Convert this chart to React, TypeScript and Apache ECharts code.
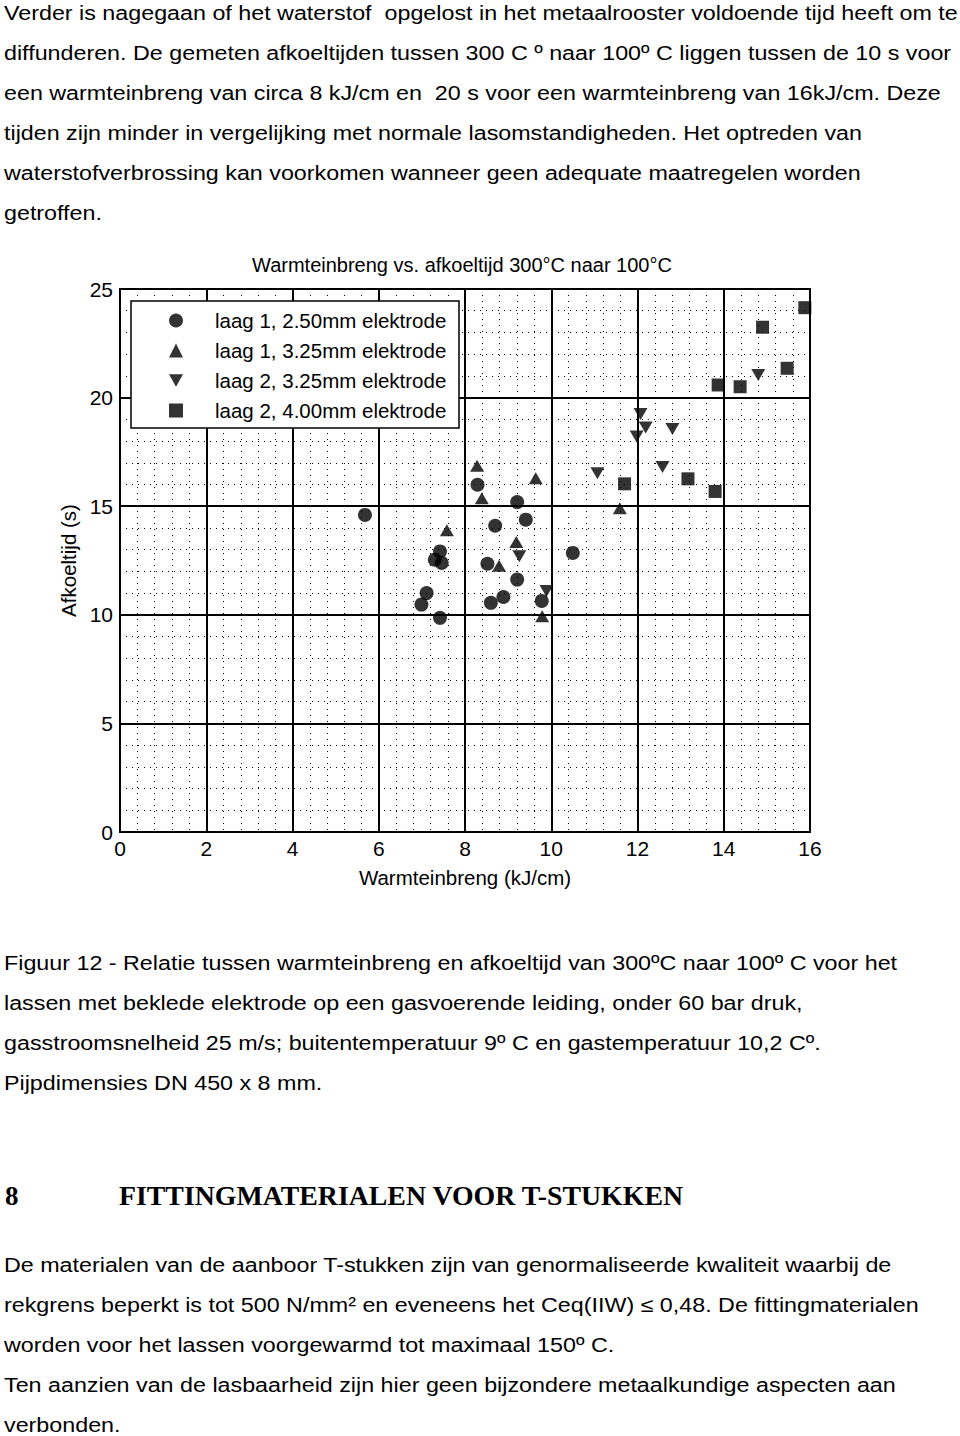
import React, { useEffect, useRef } from 'react';
import * as echarts from 'echarts';

// ---------- text content ----------
const para1Lines = [
  'Verder is nagegaan of het waterstof  opgelost in het metaalrooster voldoende tijd heeft om te',
  'diffunderen. De gemeten afkoeltijden tussen 300 C º naar 100º C liggen tussen de 10 s voor',
  'een warmteinbreng van circa 8 kJ/cm en  20 s voor een warmteinbreng van 16kJ/cm. Deze',
  'tijden zijn minder in vergelijking met normale lasomstandigheden. Het optreden van',
  'waterstofverbrossing kan voorkomen wanneer geen adequate maatregelen worden',
  'getroffen.',
];
const captionLines = [
  'Figuur 12 - Relatie tussen warmteinbreng en afkoeltijd van 300ºC naar 100º C voor het',
  'lassen met beklede elektrode op een gasvoerende leiding, onder 60 bar druk,',
  'gasstroomsnelheid 25 m/s; buitentemperatuur 9º C en gastemperatuur 10,2 Cº.',
  'Pijpdimensies DN 450 x 8 mm.',
];
const headingNumber = '8';
const headingText = 'FITTINGMATERIALEN VOOR T-STUKKEN';
const para2Lines = [
  'De materialen van de aanboor T-stukken zijn van genormaliseerde kwaliteit waarbij de',
  'rekgrens beperkt is tot 500 N/mm² en eveneens het Ceq(IIW) ≤ 0,48. De fittingmaterialen',
  'worden voor het lassen voorgewarmd tot maximaal 150º C.',
  'Ten aanzien van de lasbaarheid zijn hier geen bijzondere metaalkundige aspecten aan',
  'verbonden.',
];

// ---------- chart data ----------
const chartTitle = 'Warmteinbreng vs. afkoeltijd 300°C naar 100°C';
const xAxisName = 'Warmteinbreng (kJ/cm)';
const yAxisName = 'Afkoeltijd (s)';
const xTicks = [0, 2, 4, 6, 8, 10, 12, 14, 16];
const yTicks = [0, 5, 10, 15, 20, 25];

const seriesNames = [
  'laag 1, 2.50mm elektrode',
  'laag 1, 3.25mm elektrode',
  'laag 2, 3.25mm elektrode',
  'laag 2, 4.00mm elektrode',
];

const laag1_250 = [
  [5.68, 14.6], [7.42, 12.92], [7.3, 12.54], [7.46, 12.39], [7.11, 11.0], [6.99, 10.47],
  [7.42, 9.86], [8.29, 15.99], [9.21, 15.19], [8.7, 14.1], [9.41, 14.38], [8.52, 12.35],
  [9.21, 11.62], [8.6, 10.55], [8.89, 10.82], [9.78, 10.64], [10.5, 12.85],
];
const laag1_325 = [
  [8.28, 16.86], [8.39, 15.37], [9.64, 16.29], [7.58, 13.89], [9.19, 13.35],
  [8.79, 12.26], [9.79, 9.93], [11.59, 14.91],
];
const laag2_325 = [
  [9.26, 12.69], [9.89, 11.1], [11.07, 16.52], [12.07, 19.24], [12.19, 18.62],
  [11.98, 18.21], [12.81, 18.55], [12.58, 16.8], [14.8, 21.04],
];
const laag2_400 = [
  [11.7, 16.03], [13.17, 16.26], [13.8, 15.68], [13.87, 20.58], [14.38, 20.5],
  [15.47, 21.35], [14.9, 23.24], [15.88, 24.14],
];

const FONT = '"Liberation Sans", Arial, Helvetica, sans-serif';
const SERIF = '"Liberation Serif", "Times New Roman", serif';

function Chart() {
  const ref = useRef<HTMLDivElement>(null);
  useEffect(() => {
    if (!ref.current) return;
    const chart = echarts.init(ref.current, null, { renderer: 'svg' });
    const minor = { show: true, lineStyle: { color: '#000', width: 1, type: [1, 5] } };
    const major = { show: true, lineStyle: { color: '#000', width: 2 } };
    chart.setOption({
      animation: false,
      textStyle: { fontFamily: FONT, color: '#000' },
      title: {
        text: chartTitle,
        left: 252,
        top: 25,
        padding: 0,
        textStyle: { fontFamily: FONT, fontSize: 20, fontWeight: 'normal', color: '#000' },
      },
      grid: {
        left: 120, top: 59, width: 690, height: 543,
        show: true, borderColor: '#000', borderWidth: 2, backgroundColor: '#fff',
      },
      xAxis: {
        type: 'value',
        min: xTicks[0], max: xTicks[xTicks.length - 1], interval: xTicks[1] - xTicks[0],
        name: xAxisName, nameLocation: 'middle', nameGap: 35,
        nameTextStyle: { fontFamily: FONT, fontSize: 20.5, color: '#000' },
        axisLine: { show: true, onZero: false, lineStyle: { color: '#000', width: 2 } },
        axisTick: { show: false },
        axisLabel: { fontFamily: FONT, fontSize: 21, color: '#000', margin: 6 },
        splitLine: major,
        minorTick: { show: false, splitNumber: 5 },
        minorSplitLine: minor,
      },
      yAxis: {
        type: 'value',
        min: yTicks[0], max: yTicks[yTicks.length - 1], interval: yTicks[1] - yTicks[0],
        name: yAxisName, nameLocation: 'middle', nameGap: 40,
        nameTextStyle: { fontFamily: FONT, fontSize: 20.5, color: '#000' },
        axisLine: { show: true, onZero: false, lineStyle: { color: '#000', width: 2 } },
        axisTick: { show: false },
        axisLabel: { fontFamily: FONT, fontSize: 21, color: '#000', margin: 7 },
        splitLine: major,
        minorTick: { show: false, splitNumber: 5 },
        minorSplitLine: minor,
      },
      legend: {
        orient: 'vertical',
        left: 169, top: 80,
        itemWidth: 14, itemHeight: 14, itemGap: 9,
        padding: 0,
        z: 100,
        data: seriesNames,
        textStyle: { fontFamily: FONT, fontSize: 20.5, color: '#000', padding: [0, 0, 0, 27] },
      },
      graphic: {
        elements: [
          {
            type: 'rect',
            z: 50,
            shape: { x: 131, y: 71, width: 328, height: 127 },
            style: { fill: '#fff', stroke: '#000', lineWidth: 1.5 },
          },
        ],
      },
      series: [
        { name: seriesNames[0], type: 'scatter', data: laag1_250, symbol: 'circle', symbolSize: 14, itemStyle: { color: '#000' } },
        { name: seriesNames[1], type: 'scatter', data: laag1_325, symbol: 'triangle', symbolSize: [14, 12], itemStyle: { color: '#000' } },
        { name: seriesNames[2], type: 'scatter', data: laag2_325, symbol: 'path://M0,0L10,0L5,9Z', symbolSize: [14, 12], itemStyle: { color: '#000' } },
        { name: seriesNames[3], type: 'scatter', data: laag2_400, symbol: 'rect', symbolSize: 13, itemStyle: { color: '#000' } },
      ],
    });
    return () => chart.dispose();
  }, []);
  return <div ref={ref} style={{ position: 'absolute', left: 0, top: 230, width: 960, height: 670 }} />;
}

function Lines({ lines, top }: { lines: string[]; top: number }) {
  return (
    <div
      style={{
        position: 'absolute', left: 4, top, fontFamily: FONT, fontSize: 20,
        lineHeight: '40px', color: '#000', whiteSpace: 'pre',
        transform: 'scaleX(1.164)', transformOrigin: '0 0',
      }}
    >
      {lines.map((l, i) => (
        <div key={i}>{l}</div>
      ))}
    </div>
  );
}

export default function App() {
  const headingStyle: React.CSSProperties = {
    position: 'absolute', top: 1181, fontFamily: SERIF, fontWeight: 'bold', fontSize: 27,
    lineHeight: '30px', color: '#000', whiteSpace: 'pre', transformOrigin: '0 0',
  };
  return (
    <div style={{ position: 'absolute', left: 0, top: 0, width: 960, height: 1436, background: '#fff', overflow: 'hidden' }}>
      <Lines lines={para1Lines} top={-7.5} />
      <Chart />
      <Lines lines={captionLines} top={943} />
      <div style={{ ...headingStyle, left: 5 }}>{headingNumber}</div>
      <div style={{ ...headingStyle, left: 119, transform: 'scaleX(1.03)' }}>{headingText}</div>
      <Lines lines={para2Lines} top={1245} />
    </div>
  );
}
